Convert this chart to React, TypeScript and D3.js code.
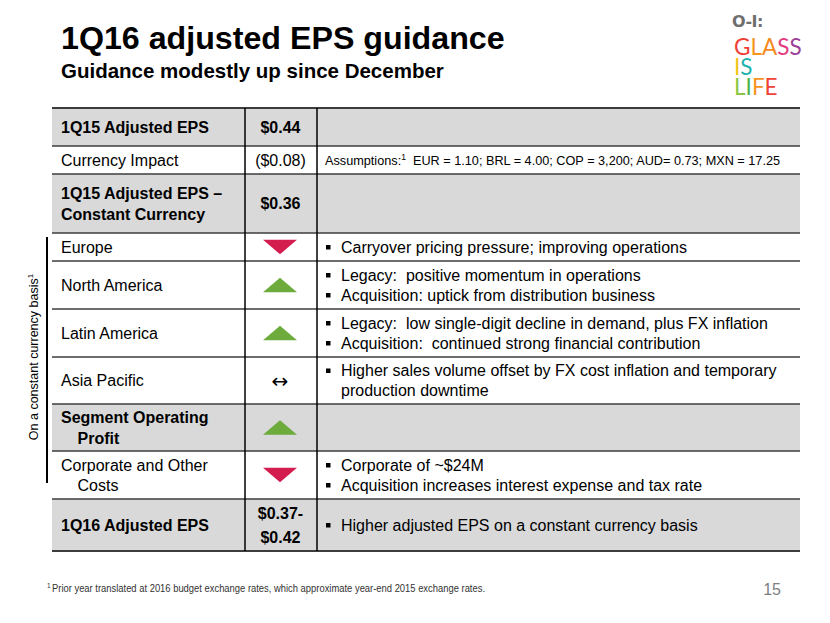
import React from "react";
import * as d3 from "d3";

// ---------- data ----------
const rowLabels: string[][] = [
  ["1Q15 Adjusted EPS"],
  ["Currency Impact"],
  ["1Q15 Adjusted EPS –", "Constant Currency"],
  ["Europe"],
  ["North America"],
  ["Latin America"],
  ["Asia Pacific"],
  ["Segment Operating", "Profit"],
  ["Corporate and Other", "Costs"],
  ["1Q16 Adjusted EPS"],
];
const rowValues: string[][] = [
  ["$0.44"],
  ["($0.08)"],
  ["$0.36"],
  ["down"],
  ["up"],
  ["up"],
  ["flat"],
  ["up"],
  ["down"],
  ["$0.37-", "$0.42"],
];
const rowBullets: string[][][] = [
  [],
  [],
  [],
  [["Carryover pricing pressure; improving operations"]],
  [["Legacy:  positive momentum in operations"], ["Acquisition: uptick from distribution business"]],
  [["Legacy:  low single-digit decline in demand, plus FX inflation"], ["Acquisition:  continued strong financial contribution"]],
  [["Higher sales volume offset by FX cost inflation and temporary", "production downtime"]],
  [],
  [["Corporate of ~$24M"], ["Acquisition increases interest expense and tax rate"]],
  [["Higher adjusted EPS on a constant currency basis"]],
];
const rowShaded = [true, false, true, false, false, false, false, true, false, true];
const rowBold = [true, false, true, false, false, false, false, true, false, true];
const assumptionLead = "Assumptions:";
const assumptionText = "  EUR = 1.10; BRL = 4.00; COP = 3,200; AUD= 0.73; MXN = 17.25";
const titleText = "1Q16 adjusted EPS guidance";
const subtitleText = "Guidance modestly up since December";
const sideLabel = "On a constant currency basis";
const footnoteText = "Prior year translated at 2016 budget exchange rates, which approximate year-end 2015 exchange rates.";
const pageNumber = "15";

// ---------- layout ----------
const rowHeights = [38, 28, 59, 28, 48, 48, 47, 47, 48, 52];
const TABLE_TOP = 108;
const TABLE_LEFT = 52;
const TABLE_RIGHT = 800;
const COL1 = 245;
const COL2 = 317;
const FONT = "'Liberation Sans', Arial, Helvetica, sans-serif";
const RED = "#d41d4f";
const GREEN = "#6cab3c";

const logoRows = [
  [
    { ch: "G", c: "#ee4036" },
    { ch: "L", c: "#f7941d" },
    { ch: "A", c: "#f58b1f" },
    { ch: "S", c: "#e23b7e" },
    { ch: "S", c: "#9c3f97" },
  ],
  [
    { ch: "I", c: "#f2c313" },
    { ch: "S", c: "#1fb3ae" },
  ],
  [
    { ch: "L", c: "#8cc63f" },
    { ch: "I", c: "#4cb748" },
    { ch: "F", c: "#f7931e" },
    { ch: "E", c: "#ef4136" },
  ],
];

export default function App() {
  const bounds = [TABLE_TOP, ...Array.from(d3.cumsum(rowHeights), (v) => TABLE_TOP + v)];
  const tableBottom = bounds[bounds.length - 1];
  const valX = (COL1 + COL2) / 2 - 0.5;

  const triangle = (cx: number, cy: number, dir: string) => {
    const p = d3.path();
    const w = 34, h = 14.5;
    if (dir === "up") {
      p.moveTo(cx - w / 2, cy + h / 2);
      p.lineTo(cx + w / 2, cy + h / 2);
      p.lineTo(cx, cy - h / 2);
    } else {
      p.moveTo(cx - w / 2, cy - h / 2);
      p.lineTo(cx + w / 2, cy - h / 2);
      p.lineTo(cx, cy + h / 2);
    }
    p.closePath();
    return p.toString();
  };

  return (
    <svg
      width={830}
      height={623}
      style={{ position: "absolute", left: 0, top: 0, background: "#fff" }}
      fontFamily={FONT}
    >
      <rect x={0} y={0} width={830} height={623} fill="#fff" />
      {/* title */}
      <text x={61} y={49} fontSize={32.2} fontWeight="bold" fill="#000">{titleText}</text>
      <text x={61} y={77.5} fontSize={20.5} fontWeight="bold" fill="#000">{subtitleText}</text>

      {/* logo */}
      <g>
        <text x={732} y={27} fontSize={16} fontWeight="bold" fill="#6f6f6f" fontFamily="'DejaVu Sans', sans-serif" letterSpacing={-0.5}>O-I:</text>
        <text fontSize={22.5} fontFamily="Lato, 'Open Sans', sans-serif" fontWeight={400}>
          {logoRows.map((row, ri) =>
            row.map((l, li) => (
              <tspan
                key={ri + "-" + li}
                x={li === 0 ? 734 : undefined}
                y={li === 0 ? 55 + ri * 20 : undefined}
                fill={l.c}
              >
                {l.ch}
              </tspan>
            ))
          )}
        </text>
      </g>

      {/* table rows */}
      {rowLabels.map((lab, i) => {
        const y0 = bounds[i];
        const y1 = bounds[i + 1];
        const cy = (y0 + y1) / 2;
        const bold = rowBold[i];
        const lg = bold ? 21 : 19.5;
        const vals = rowValues[i];
        const bullets = rowBullets[i];
        const bLines: { t: string; bullet: boolean }[] = [];
        bullets.forEach((b) => b.forEach((t, k) => bLines.push({ t, bullet: k === 0 })));
        return (
          <g key={i}>
            {rowShaded[i] && (
              <rect x={TABLE_LEFT} y={y0} width={TABLE_RIGHT - TABLE_LEFT} height={y1 - y0} fill="#d9d9d9" />
            )}
            {lab.map((t, k) => (
              <text
                key={k}
                x={61 + (k > 0 && i !== 2 ? 16.5 : 0)}
                y={cy + (k - (lab.length - 1) / 2) * lg}
                dy="0.36em"
                fontSize={16}
                fontWeight={bold ? "bold" : "normal"}
                fill="#000"
              >
                {t}
              </text>
            ))}
            {vals.length === 1 && (vals[0] === "up" || vals[0] === "down") ? (
              <path d={triangle(280, cy, vals[0])} fill={vals[0] === "up" ? GREEN : RED} />
            ) : vals[0] === "flat" ? (
              <text x={280} y={cy} dy="0.36em" textAnchor="middle" fontSize={20} fill="#000" fontFamily="'DejaVu Sans', sans-serif">↔</text>
            ) : (
              vals.map((t, k) => (
                <text
                  key={k}
                  x={valX}
                  y={cy + (k - (vals.length - 1) / 2) * 24}
                  dy="0.36em"
                  textAnchor="middle"
                  fontSize={16}
                  fontWeight={bold ? "bold" : "normal"}
                  fill="#000"
                >
                  {t}
                </text>
              ))
            )}
            {i === 1 && (
              <text x={325} y={cy} dy="0.36em" fontSize={12.7} fill="#000" style={{ whiteSpace: "pre" }}>
                {assumptionLead}
                <tspan dy={-5} fontSize={8.5}>1</tspan>
                <tspan dy={5}>{assumptionText}</tspan>
              </text>
            )}
            {bLines.map((l, k) => {
              const ly = cy + (k - (bLines.length - 1) / 2) * 20;
              return (
                <g key={k}>
                  {l.bullet && <rect x={326} y={ly - 2} width={4.5} height={4.5} fill="#000" />}
                  <text x={341} y={ly} dy="0.36em" fontSize={16} fill="#000" style={{ whiteSpace: "pre" }}>
                    {l.t}
                  </text>
                </g>
              );
            })}
          </g>
        );
      })}

      {/* horizontal rules */}
      {bounds.map((y, i) => (
        <line
          key={i}
          x1={TABLE_LEFT}
          x2={TABLE_RIGHT}
          y1={y}
          y2={y}
          stroke="#3c3c3c"
          strokeWidth={i === 0 || i === bounds.length - 1 ? 2 : 1.5}
        />
      ))}
      {/* vertical rules */}
      {[COL1, COL2].map((x) => (
        <line key={x} x1={x} x2={x} y1={TABLE_TOP} y2={tableBottom} stroke="#000" strokeWidth={1.5} />
      ))}

      {/* side bracket and label */}
      <line x1={47} x2={47} y1={237} y2={483} stroke="#000" strokeWidth={2} />
      <text
        transform="translate(38,357) rotate(-90)"
        textAnchor="middle"
        fontSize={12.5}
        fill="#000"
      >
        {sideLabel}
        <tspan dy={-5} fontSize={8}>1</tspan>
      </text>

      {/* footnote */}
      <text x={47} y={588} fontSize={6.5} fill="#333">1</text>
      <text x={52} y={592} fontSize={10} fill="#333" textLength={433} lengthAdjust="spacingAndGlyphs">
        {footnoteText}
      </text>
      <text x={781} y={595} textAnchor="end" fontSize={16} fill="#7f7f7f">{pageNumber}</text>
    </svg>
  );
}
